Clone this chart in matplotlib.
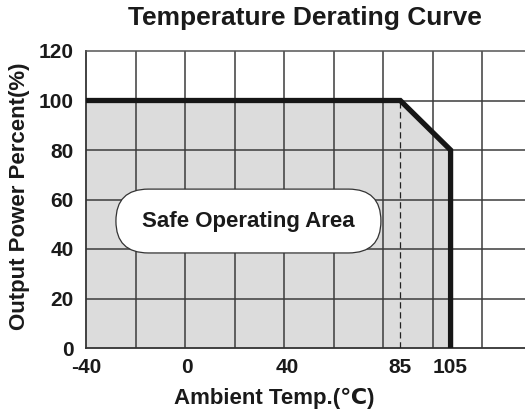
import matplotlib
matplotlib.use("Agg")
import matplotlib.pyplot as plt
from matplotlib.patches import FancyBboxPatch
import numpy as np

# derating curve: ambient temperature (C) vs output power (%)
temps = [-40, 85, 105, 105]
power = [100, 100, 80, 0]

x_ticks = [-40, 0, 40, 85, 105]
x_tick_labels = ["-40", "0", "40", "85", "105"]
y_ticks = [0, 20, 40, 60, 80, 100, 120]
derate_start = 85

title = "Temperature Derating Curve"
x_label = "Ambient Temp.(\u2103)"
y_label = "Output Power Percent(%)"
area_label = "Safe Operating Area"

plt.rcParams['font.family'] = ['Liberation Sans', 'DejaVu Sans']
plt.rcParams['font.weight'] = 'bold'

fig = plt.figure(figsize=(5.25, 4.16), dpi=100)
ax = fig.add_axes([86 / 525, 68 / 416, 439 / 525, 297 / 416])

x_max = 134.6
ax.set_xlim(-40, x_max)
ax.set_ylim(0, 120)

grid_col = '#3c3c3c'
# background grid: 9 equal columns, rows every 20 %
col_w = 19.7
for gx in np.arange(-40 + col_w, x_max, col_w):
    ax.axvline(gx, color=grid_col, lw=1.1, zorder=2)
for gy in y_ticks[1:-1]:
    ax.axhline(gy, color=grid_col, lw=1.1, zorder=2)

# safe area fill and curve
ax.fill_between(temps, power, 0, color='#dcdcdc', lw=0, zorder=1)
ax.plot(temps, power, color='#161616', lw=3.8, solid_joinstyle='miter',
        solid_capstyle='butt', zorder=4)
ax.plot([derate_start, derate_start], [0, 100], color='#222222', lw=0.9,
        ls=(0, (5, 3)), zorder=3)

# label pill (x and y scales are almost equal in pixels)
cx, cy, bw, bh = 24.6, 51.3, 105.4, 25.8
pill = FancyBboxPatch((cx - bw / 2 + bh / 2, cy), bw - bh, 0,
                      boxstyle=f"round,pad={bh / 2},rounding_size={bh / 2}",
                      facecolor='white', edgecolor='#333333', lw=0.9,
                      zorder=5)
ax.add_patch(pill)
ax.text(cx, cy, area_label, ha='center', va='center', fontsize=16,
        fontweight='bold', color='#1a1a1a', zorder=6)

ax.set_xticks(x_ticks)
ax.set_xticklabels(x_tick_labels)
ax.set_yticks(y_ticks)
ax.tick_params(length=0, labelsize=15, labelcolor='#1a1a1a')
ax.tick_params(axis='x', pad=7)
ax.tick_params(axis='y', pad=9)

for side in ['left', 'bottom']:
    ax.spines[side].set_color('#333333')
    ax.spines[side].set_linewidth(1.3)
ax.spines['top'].set_color('#555555')
ax.spines['top'].set_linewidth(1.1)
ax.spines['right'].set_visible(False)

fig.text(305 / 525, 1 - 18 / 416, title, ha='center', va='center',
         fontsize=19, fontweight='bold', color='#1a1a1a')
fig.text(274 / 525, 1 - 398 / 416, x_label, ha='center', va='center',
         fontsize=16, fontweight='bold', color='#1a1a1a')
fig.text(20 / 525, 1 - 196 / 416, y_label, ha='center', va='center',
         rotation=90, fontsize=16, fontweight='bold', color='#1a1a1a')

fig.savefig('out.png', dpi=100)
